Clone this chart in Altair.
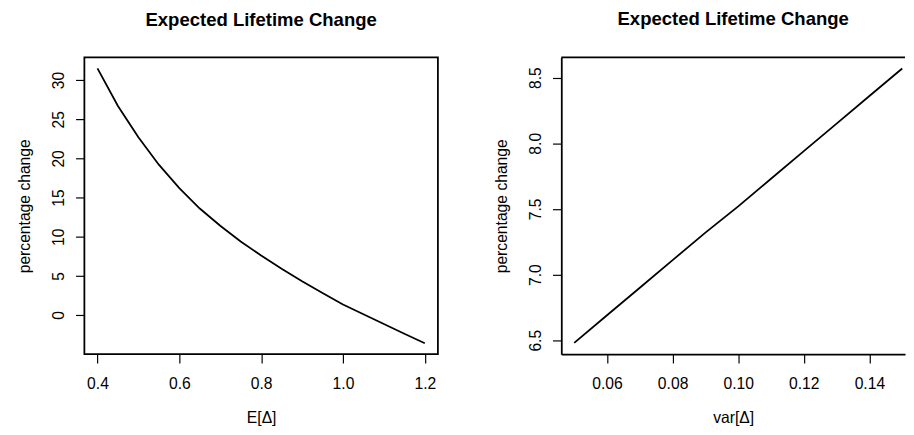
import altair as alt
import pandas as pd

# ---- data ----
e_delta = [0.40, 0.45, 0.50, 0.55, 0.60, 0.65, 0.70, 0.75, 0.80,
           0.85, 0.90, 0.95, 1.00, 1.05, 1.10, 1.15, 1.20]
pct_change_e = [31.5, 26.7, 22.7, 19.2, 16.2, 13.6, 11.4, 9.4, 7.6,
                5.9, 4.3, 2.8, 1.35, 0.1, -1.15, -2.4, -3.6]

var_delta = [0.05, 0.06, 0.07, 0.08, 0.09, 0.10, 0.11, 0.12, 0.13, 0.14, 0.15]
pct_change_var = [6.48, 6.69, 6.90, 7.11, 7.32, 7.52, 7.73, 7.94, 8.15, 8.36, 8.57]

left_xticks = [0.4, 0.6, 0.8, 1.0, 1.2]
left_yticks = [0, 5, 10, 15, 20, 25, 30]
right_xticks = [0.06, 0.08, 0.10, 0.12, 0.14]
right_yticks = [6.5, 7.0, 7.5, 8.0, 8.5]

title_text = "Expected Lifetime Change"

FONT = "Liberation Sans"
FS = 16
LW = 1.8
W1, W2, H = 361, 351, 303


def xaxis(title, values, fmt, domain=False):
    if domain:
        kw = dict(domain=True, domainColor="black", domainWidth=LW)
    else:
        kw = dict(domain=False)
    return alt.Axis(title=title, values=values, format=fmt, grid=False,
                    tickSize=9, tickColor="black", tickWidth=1.2,
                    labelFont=FONT, labelFontSize=FS, labelColor="black",
                    labelPadding=26, labelBaseline="alphabetic",
                    labelFlush=False, labelOverlap=False, labelBound=False,
                    titleFont=FONT, titleFontSize=FS, titleFontWeight="normal",
                    titleColor="black", titleBaseline="alphabetic",
                    titleY=69.5, **kw)


def yaxis(title, values, fmt, domain=False):
    if domain:
        kw = dict(domain=True, domainColor="black", domainWidth=LW)
    else:
        kw = dict(domain=False)
    return alt.Axis(title=title, values=values, format=fmt, grid=False,
                    tickSize=9, tickColor="black", tickWidth=1.2,
                    labelFont=FONT, labelFontSize=FS, labelColor="black",
                    labelAngle=270, labelAlign="center",
                    labelBaseline="alphabetic", labelPadding=12,
                    labelFlush=False, labelOverlap=False, labelBound=False,
                    titleFont=FONT, titleFontSize=FS, titleFontWeight="normal",
                    titleColor="black", titleAngle=270,
                    titleBaseline="alphabetic", titleX=-56, **kw)


def ttl():
    return alt.TitleParams(title_text, font=FONT, fontSize=18.9,
                           fontWeight="bold", color="black", offset=13,
                           baseline="alphabetic", anchor="middle",
                           frame="group")


df_left = pd.DataFrame({"x": e_delta, "y": pct_change_e})
left = alt.Chart(df_left).mark_line(color="black", strokeWidth=LW).encode(
    x=alt.X("x:Q", scale=alt.Scale(domain=[0.368, 1.232], nice=False, zero=False),
            axis=xaxis("E[Δ]", left_xticks, ".1f")),
    y=alt.Y("y:Q", scale=alt.Scale(domain=[-5.0, 32.9], nice=False, zero=False),
            axis=yaxis("percentage change", left_yticks, "d")),
).properties(width=W1, height=H, title=ttl(),
             view=alt.ViewBackground(stroke="black", strokeWidth=LW))

df_right = pd.DataFrame({"x": var_delta, "y": pct_change_var})
right_line = alt.Chart(df_right).mark_line(color="black", strokeWidth=LW).encode(
    x=alt.X("x:Q", scale=alt.Scale(domain=[0.04606, 0.15086], nice=False, zero=False),
            axis=xaxis("var[Δ]", right_xticks, ".2f", domain=True)),
    y=alt.Y("y:Q", scale=alt.Scale(domain=[6.394, 8.654], nice=False, zero=False),
            axis=yaxis("percentage change", right_yticks, ".1f", domain=True)),
)
top_rule = alt.Chart(pd.DataFrame({"a": [0]})).mark_rule(
    color="black", strokeWidth=LW).encode(
    x=alt.value(0), x2=alt.value(W2), y=alt.value(0))
right = alt.layer(right_line, top_rule).properties(
    width=W2, height=H, title=ttl(),
    view=alt.ViewBackground(strokeWidth=0))

chart = alt.hconcat(left, right, spacing=56).properties(
    padding={"left": 8, "top": -2, "right": 0, "bottom": 0}
).configure_view(strokeWidth=0).configure(background="white")

chart.save("out.html", embed_options={"renderer": "svg", "actions": False})
